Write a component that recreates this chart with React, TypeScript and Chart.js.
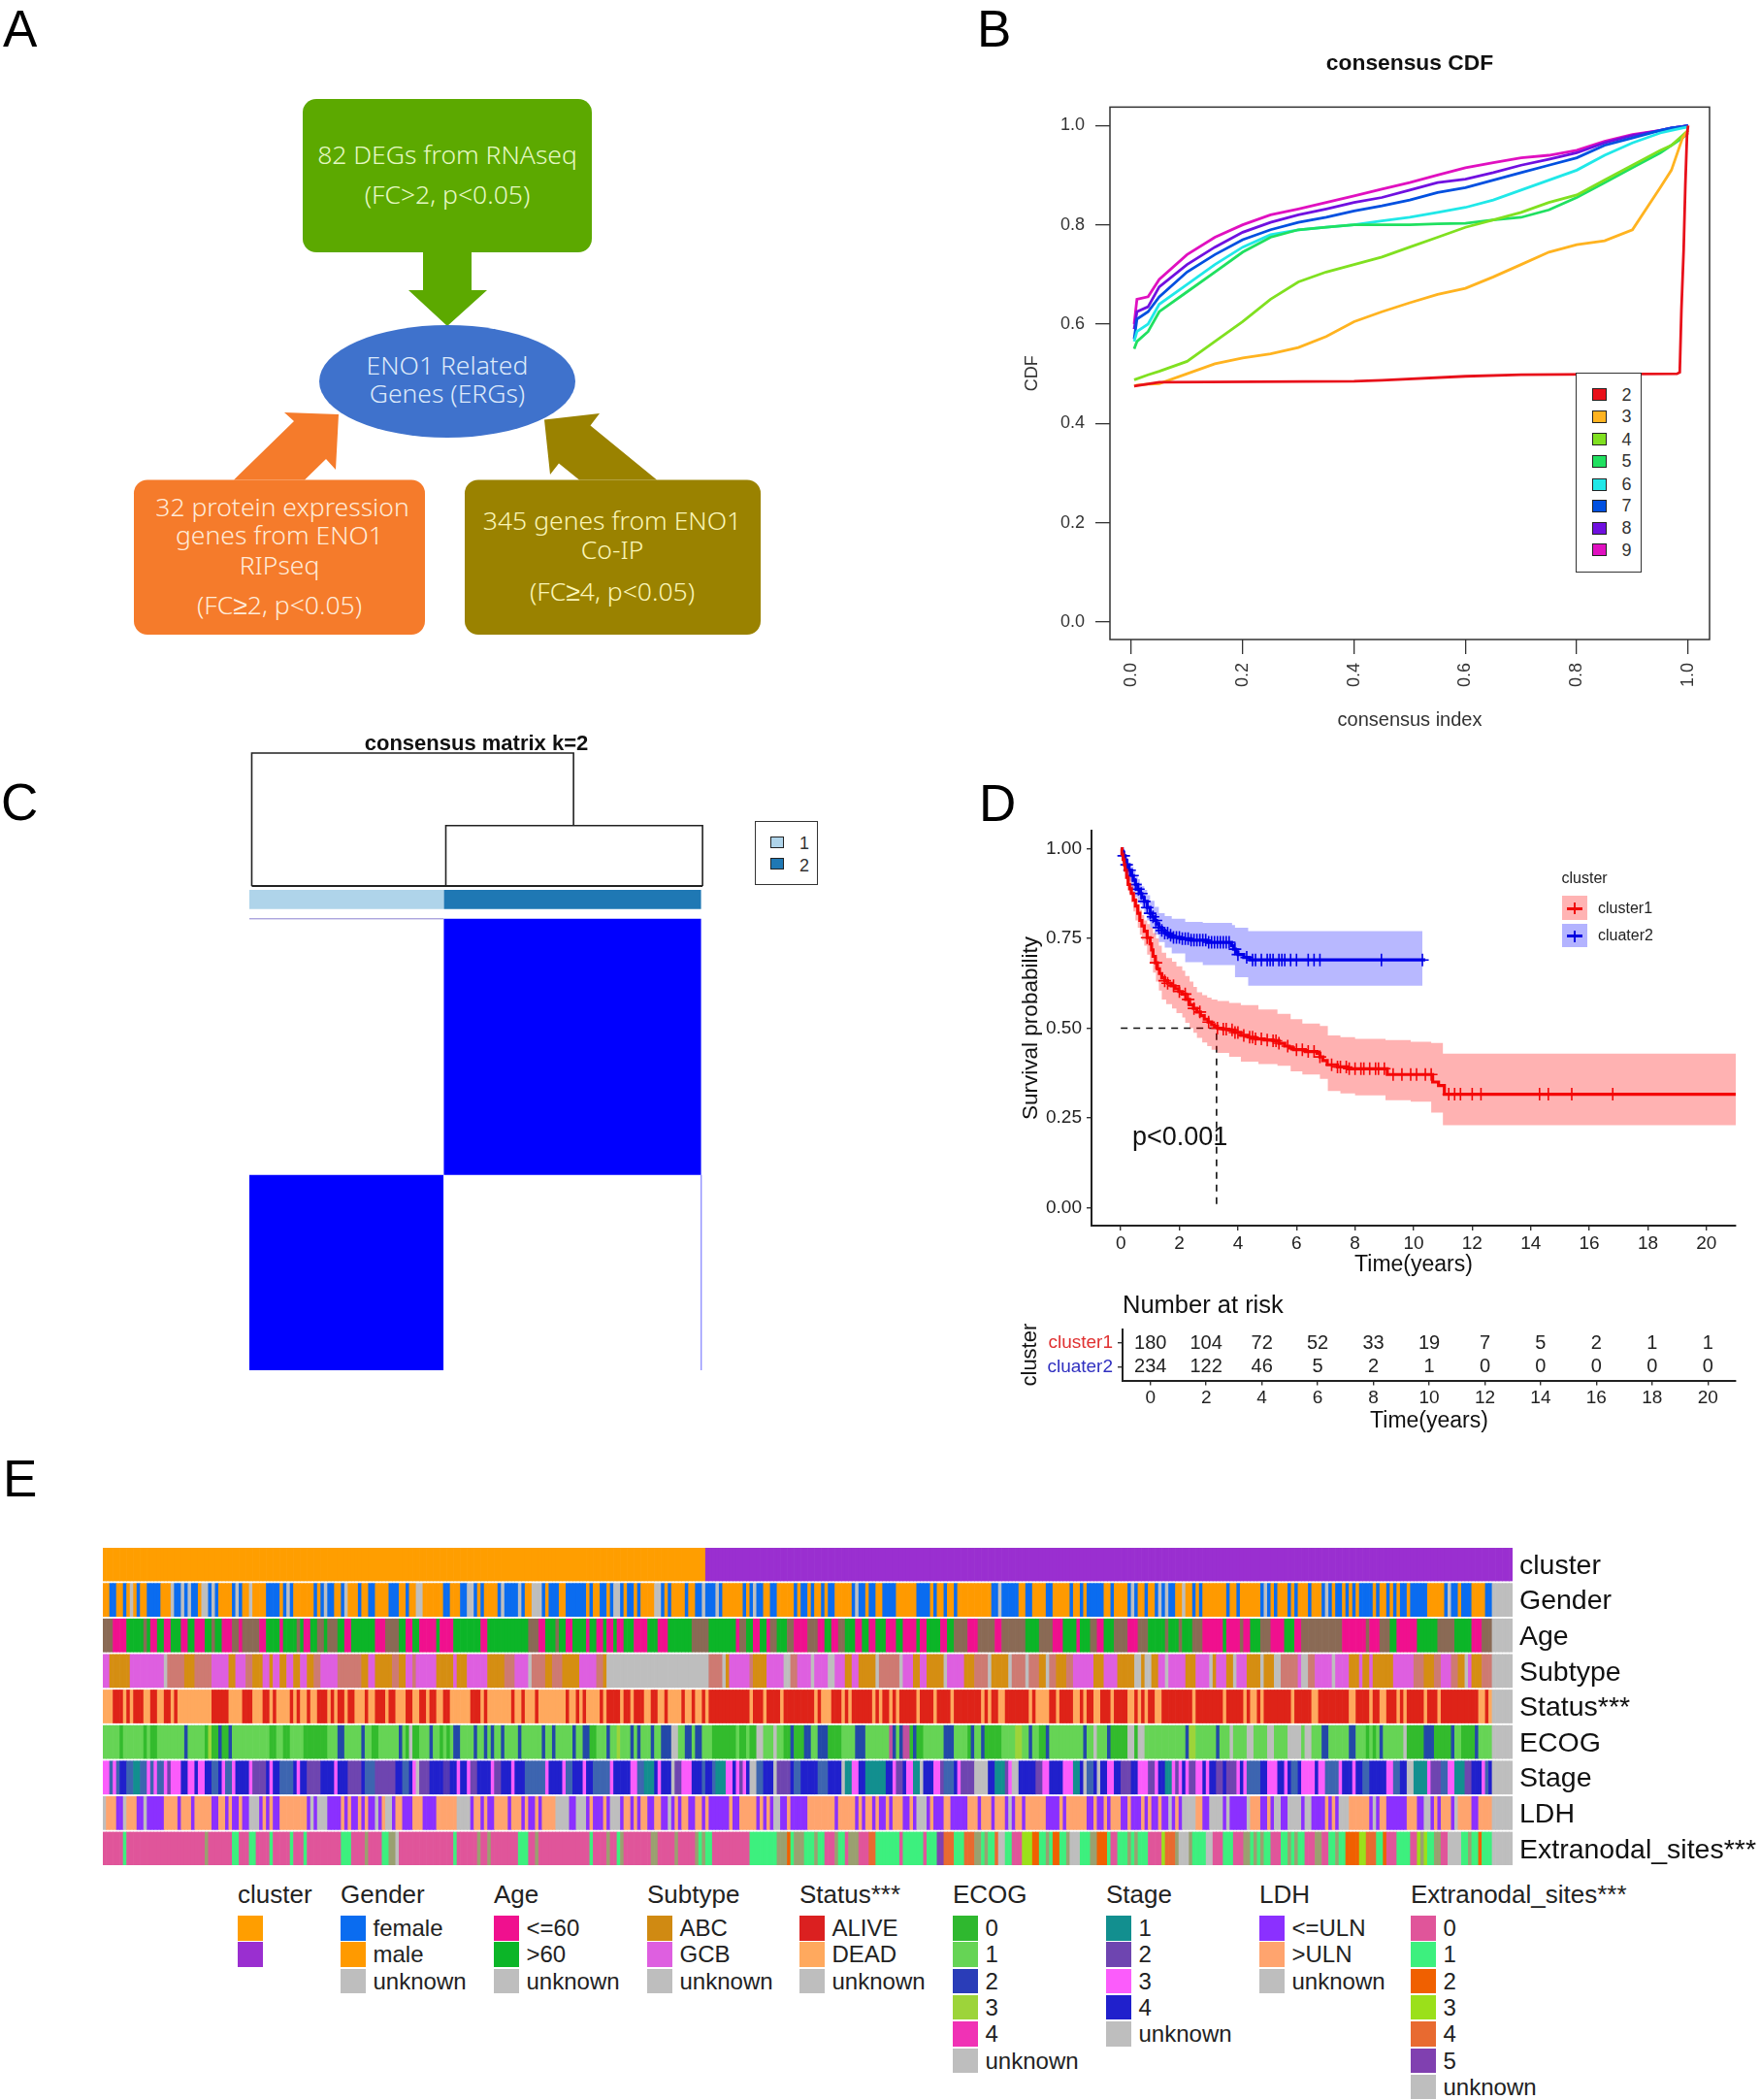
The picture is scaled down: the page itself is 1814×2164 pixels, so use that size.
import React, { useEffect, useRef } from "react";
import { Chart, registerables } from "chart.js";

Chart.register(...registerables);
Chart.defaults.font.family = "'Liberation Sans', Arial, sans-serif";

/* ---------- Panel B: consensus CDF ---------- */
const cdfIndex = [0.005, 0.01, 0.03, 0.05, 0.1, 0.15, 0.2, 0.25, 0.3, 0.35, 0.4, 0.45, 0.5, 0.55, 0.6, 0.65, 0.7, 0.75, 0.8, 0.85, 0.9, 0.95, 0.97, 0.99, 1];
const k2Index = [0.005, 0.05, 0.4, 0.45, 0.6, 0.7, 0.98, 0.985, 0.988, 0.992, 0.995, 0.998, 1];
const k2 = [0.475, 0.483, 0.485, 0.487, 0.495, 0.498, 0.5, 0.503, 0.63, 0.75, 0.88, 0.98, 1];
const k3 = [0.475, 0.477, 0.479, 0.48, 0.5, 0.52, 0.532, 0.54, 0.553, 0.575, 0.605, 0.625, 0.643, 0.66, 0.672, 0.695, 0.72, 0.745, 0.76, 0.768, 0.79, 0.875, 0.91, 0.975, 0.99];
const k4 = [0.488, 0.49, 0.498, 0.505, 0.525, 0.565, 0.605, 0.65, 0.685, 0.705, 0.72, 0.735, 0.755, 0.775, 0.795, 0.81, 0.825, 0.845, 0.86, 0.89, 0.92, 0.95, 0.96, 0.98, 0.99];
const k5 = [0.55, 0.565, 0.585, 0.625, 0.665, 0.705, 0.745, 0.775, 0.79, 0.795, 0.8, 0.8, 0.8, 0.802, 0.803, 0.81, 0.815, 0.83, 0.855, 0.885, 0.915, 0.945, 0.96, 0.975, 0.985];
const k6 = [0.565, 0.585, 0.6, 0.64, 0.68, 0.72, 0.755, 0.78, 0.79, 0.795, 0.8, 0.808, 0.815, 0.825, 0.835, 0.85, 0.87, 0.89, 0.91, 0.94, 0.965, 0.985, 0.99, 0.995, 0.997];
const k7 = [0.57, 0.61, 0.625, 0.655, 0.705, 0.74, 0.77, 0.79, 0.805, 0.815, 0.828, 0.838, 0.85, 0.865, 0.875, 0.89, 0.905, 0.92, 0.935, 0.96, 0.975, 0.99, 0.995, 0.998, 1];
const k8 = [0.59, 0.625, 0.635, 0.675, 0.72, 0.755, 0.785, 0.805, 0.82, 0.832, 0.845, 0.855, 0.87, 0.885, 0.892, 0.905, 0.92, 0.932, 0.945, 0.965, 0.98, 0.99, 0.995, 0.998, 1];
const k9 = [0.6, 0.65, 0.655, 0.69, 0.74, 0.775, 0.8, 0.82, 0.832, 0.845, 0.858, 0.872, 0.885, 0.9, 0.915, 0.925, 0.935, 0.94, 0.95, 0.968, 0.982, 0.99, 0.995, 0.998, 1];
const cdfLabels = ["2", "3", "4", "5", "6", "7", "8", "9"];
const cdfColors = ["#E8101A", "#FFB320", "#80E020", "#20E060", "#20E8E8", "#0050E0", "#7010E0", "#E010C0"];
const unitTicks = [0, 0.2, 0.4, 0.6, 0.8, 1];

/* ---------- Panel C: consensus matrix ---------- */
const sampleCount = 414;
const clusterSplitX = 178;
const clusterSplitY = 235;
const matrixBlue = "#0000FF";
const annotationColors = ["#AFD4EA", "#1F78B4"];

/* ---------- Panel D: survival ---------- */
const c1Time = [0, 0.04, 0.08, 0.12, 0.15, 0.2, 0.25, 0.3, 0.36, 0.43, 0.5, 0.58, 0.65, 0.72, 0.8, 0.9, 1.0, 1.05, 1.1, 1.18, 1.25, 1.32, 1.4, 1.5, 1.6, 1.72, 1.85, 1.98, 2.1, 2.22, 2.35, 2.48, 2.6, 2.72, 2.85, 2.98, 3.1, 3.2, 3.3, 3.5, 3.7, 3.9, 4.1, 4.35, 4.6, 4.9, 5.2, 5.4, 5.6, 5.75, 5.9, 6.3, 6.7, 6.8, 6.9, 7.05, 7.4, 7.75, 9.1, 10.65, 10.85, 11.05, 21];
const c1Surv = [1, 0.985, 0.97, 0.955, 0.94, 0.92, 0.9, 0.888, 0.875, 0.857, 0.84, 0.82, 0.8, 0.785, 0.77, 0.752, 0.735, 0.718, 0.7, 0.682, 0.665, 0.652, 0.64, 0.632, 0.625, 0.618, 0.61, 0.602, 0.595, 0.58, 0.565, 0.555, 0.545, 0.535, 0.525, 0.517, 0.51, 0.505, 0.5, 0.497, 0.495, 0.488, 0.48, 0.475, 0.47, 0.467, 0.465, 0.458, 0.45, 0.445, 0.44, 0.435, 0.43, 0.42, 0.41, 0.398, 0.392, 0.387, 0.371, 0.35, 0.34, 0.316, 0.316];
const c1BandTime = [0, 0.05, 0.1, 0.15, 0.2, 0.28, 0.36, 0.43, 0.5, 0.58, 0.65, 0.72, 0.8, 0.9, 1.0, 1.1, 1.2, 1.3, 1.4, 1.55, 1.75, 1.9, 2.1, 2.2, 2.35, 2.48, 2.6, 2.78, 2.95, 3.1, 3.3, 3.7, 4.1, 4.7, 5.35, 5.8, 6.2, 6.8, 7.07, 7.5, 8.0, 9.04, 9.9, 10.6, 11.0, 21];
const c1Upper = [1, 0.99, 0.98, 0.96, 0.94, 0.92, 0.9, 0.88, 0.86, 0.845, 0.83, 0.815, 0.8, 0.79, 0.78, 0.765, 0.75, 0.73, 0.71, 0.695, 0.685, 0.672, 0.66, 0.645, 0.63, 0.615, 0.6, 0.592, 0.585, 0.58, 0.576, 0.57, 0.564, 0.552, 0.54, 0.525, 0.513, 0.506, 0.48, 0.475, 0.47, 0.467, 0.462, 0.459, 0.429, 0.429];
const c1Lower = [1, 0.975, 0.95, 0.925, 0.9, 0.875, 0.85, 0.825, 0.8, 0.78, 0.76, 0.745, 0.73, 0.705, 0.68, 0.655, 0.63, 0.605, 0.58, 0.567, 0.555, 0.542, 0.53, 0.515, 0.5, 0.487, 0.473, 0.46, 0.45, 0.44, 0.431, 0.42, 0.407, 0.4, 0.395, 0.38, 0.371, 0.359, 0.325, 0.318, 0.313, 0.299, 0.295, 0.265, 0.23, 0.23];
const c1Censor = [0.9, 1.2, 1.5, 1.6, 1.8, 2.0, 2.2, 2.3, 2.5, 2.7, 3.0, 3.3, 3.5, 3.6, 3.8, 3.9, 4.0, 4.2, 4.4, 4.5, 4.6, 4.8, 5.0, 5.2, 5.3, 5.4, 5.7, 6.0, 6.2, 6.4, 6.6, 6.8, 7.2, 7.4, 7.5, 7.7, 7.8, 8.0, 8.2, 8.3, 8.5, 8.7, 8.8, 9.0, 9.3, 9.6, 9.9, 10.1, 10.4, 10.6, 11.2, 11.4, 11.6, 12.0, 12.3, 14.3, 14.6, 15.4, 16.8];
const c2Time = [0, 0.05, 0.1, 0.15, 0.2, 0.28, 0.36, 0.43, 0.5, 0.58, 0.65, 0.72, 0.8, 0.9, 1.0, 1.08, 1.15, 1.22, 1.3, 1.4, 1.5, 1.62, 1.74, 2.05, 2.4, 2.94, 3.7, 3.78, 3.85, 3.92, 4.0, 4.2, 4.4, 10.4];
const c2Surv = [1, 0.99, 0.98, 0.968, 0.955, 0.94, 0.925, 0.912, 0.9, 0.887, 0.875, 0.864, 0.853, 0.836, 0.82, 0.81, 0.8, 0.79, 0.78, 0.772, 0.765, 0.759, 0.753, 0.749, 0.745, 0.739, 0.739, 0.73, 0.72, 0.712, 0.705, 0.697, 0.69, 0.69];
const c2BandTime = [0, 0.05, 0.1, 0.15, 0.2, 0.28, 0.36, 0.43, 0.5, 0.58, 0.65, 0.72, 0.8, 0.9, 1.0, 1.15, 1.3, 1.5, 1.74, 2.2, 2.8, 3.8, 3.9, 4.35, 10.3];
const c2Upper = [1, 0.995, 0.99, 0.98, 0.97, 0.96, 0.95, 0.937, 0.925, 0.915, 0.905, 0.895, 0.885, 0.87, 0.855, 0.838, 0.82, 0.812, 0.805, 0.796, 0.793, 0.787, 0.78, 0.77, 0.77];
const c2Lower = [1, 0.985, 0.97, 0.95, 0.93, 0.91, 0.89, 0.877, 0.865, 0.855, 0.845, 0.832, 0.82, 0.8, 0.78, 0.76, 0.74, 0.724, 0.708, 0.684, 0.676, 0.676, 0.642, 0.618, 0.618];
const c2Censor = [0.1, 0.2, 0.3, 0.4, 0.5, 0.6, 0.7, 0.8, 0.9, 1.0, 1.1, 1.2, 1.3, 1.4, 1.5, 1.6, 1.7, 1.8, 1.9, 2.0, 2.1, 2.2, 2.3, 2.4, 2.5, 2.6, 2.7, 2.8, 2.9, 3.0, 3.1, 3.2, 3.3, 3.4, 3.5, 3.6, 3.7, 3.9, 4.0, 4.3, 4.5, 4.6, 4.8, 5.0, 5.1, 5.2, 5.4, 5.5, 5.6, 5.8, 6.0, 6.4, 6.6, 6.8, 8.9, 10.3];
const medianTime = 3.27;
const timeTicks = [0, 2, 4, 6, 8, 10, 12, 14, 16, 18, 20];
const survTicks = [0, 0.25, 0.5, 0.75, 1];
const riskCluster1 = [180, 104, 72, 52, 33, 19, 7, 5, 2, 1, 1];
const riskCluster2 = [234, 122, 46, 5, 2, 1, 0, 0, 0, 0, 0];

/* ---------- Panel E: clinical annotation heatmap (run lengths by sample) ---------- */
const rowNames = ["cluster", "Gender", "Age", "Subtype", "Status***", "ECOG", "Stage", "LDH", "Extranodal_sites***"];
const clusterRuns = ["O177 P237"];
const genderRuns = [
  "m2 f2 m2 f1 m1 u1 m1 f1 m2 f4 m3 u1 f2 u1 f1 u1 f2 m1 u2 f1 u1 f1 m4 f1 u1 f1 m2 u1 m4 f4 m1 f1 u1 f1 m6 f1 m1 f1 u1 f2 m2 f1 u1 m3 f1 m2 f2 m4",
  "f3 m2 f1 m2 u2 m6 f2 m3 f2 u2 f1 m1 f1 m4 f1 u1 f4 u1 f1 m2 u3 f1 m1 f3 m2 f6 m1 f1 m2 f2 m1 f1 u2 f1 m1 f2 m1 f1 m4 u2 f1 m1 f1",
  "m4 f1 m2 f2 u1 f3 u1 f1 m6 f1 m1 f1 u1 f2 m2 f2 m5 f1 m1 f2 m1 f1 m2 f1 m1 f2 m5 f1 u1 f2 m1 f2 m2 f4 m6 f4 m1 f1 m2 f1 m2",
  "f1 m10 f2 u1 f5 m2 f2 m4 f2 m5 f1 m2 f1 m1 f5 m2 f1 m4 f1 u1 f1 m2 f1 m2 f1 u1 f1 u1 f2 m2 u1 m2 f1 m1 f1 m7 f1 m1",
  "m1 f1 m6 f1 u1 f1 m1 f1 m3 f1 m1 f1 m3 f1 m3 f1 u1 f1 m1 f2 m1 f1 m1 f1 m1 f4 m1 f1 m2 f1 m1 f1 m1 f2 m1 f5 m5 f1 u1 f2 m1 f3 m4 f3 m1",
];
const ageRuns = [
  "x3 a4 b5 x1 b1 a2 b2 a2 b3 a2 b2 a3 b2 x1 b2 a3 x2 a1 x5 a2 b4 a1 b4 x1 b1 a2 b2 x2 b1 x3 b2 a2 b7 a3",
  "x4 b2 a2 b2 a5 b1 a4 b8 a2 b12 x3 a2 b3 x1 b2 a2 b4 a1 b2 a2 b1 a2 b1 a2 b3 a4 b3 a3",
  "b7 x5 b8 a1 x2 b2 a2 b2 a1 x2 b3 x2 a4 x3 a2 b2 a2 x2 b3 a2 b2 a2 b3 a3 b2 a4 b1 a2 b4 a2 b1",
  "b1 x4 a3 x5 a2 x7 b4 x4 a3 b4 a1 b3 x2 a2 b3 x4 a3 x3 b5 x1 b3 x1 b3 x3 a6 b1 a1",
  "a3 x1 a2 b3 x3 a4 b3 a2 x12 a7 x1 a3 x3 b2 a6 b4 b2 x5 b5 a3 x3",
];
const subtypeRuns = [
  "g2 c6 g10 u1 y5 c3 y5 g5 c2 g3 y2 c3 g2 c1 g2 c2 g2 c2 g2 c2 y2 g5 y7 c2 g2 c3",
  "c2 y2 c2 g2 y1 g6 c5 g1 c3 g6 c5 y3 g4 u1 y4 c2 y3 c5 g5 y2 c1 u18",
  "u12 y4 u1 c1 g6 y1 c4 g5 u2 y2 g4 u1 g4 u2 g3 c2 g2 c5 u1 y6 u1 g3 c2 g2 c5 u1 g1",
  "g4 c3 y4 u1 c5 u1 y4 u1 y3 c2 u1 y2 c3 y2 g6 c3 g4 c5 u2 c1 u2 c2 g2 u1 g5 c3 g4 u1 c1 g3 c2",
  "u1 g3 c4 u1 c3 u2 y5 g1 u2 y2 g5 u1 g4 c3 g1 c2 g1 c6 g6 y3 c3 y2 g3 y2 c2 u1 g1 c3 y3",
];
const statusRuns = [
  "e3 d3 e1 d1 e1 d3 e2 d2 e2 d2 e1 d1 e10 d5 e4 d3 e3 d2 e1 d1 e4 d1 e1 d1 e2 d1 e2 d3 e1 d1 e1 d2 e1 d2 e3 d1 e2 d3",
  "e1 d2 e3 d2 e2 d2 e1 d2 e2 d2 e6 d3 e1 d1 e7 d1 e2 d1 e3 d1 e8 d1 e2 d1 e1 d1 e4 d1 e1 d4 e1 d2 e1 d3 e2 d2 e2 d1",
  "e4 d1 e2 d1 e2 d1 e1 d12 e1 d3 e1 d4 e1 d9 e1 d1 e3 d3 e1 d1 e1 d6 e1 d1 e1 d2 e1 d1 e1 d5 e1 d4 e1 d4",
  "e1 d8 e1 d1 e1 d2 e2 d7 e1 d1 e4 d2 e1 d4 e2 d1 e1 d2 e2 d3 e1 d4 e2 d1 e1 d1 e1 d2 e2 d9 e1 d8 e1 d2",
  "d3 e1 d1 e2 d1 e1 d8 e1 d5 e2 d9 e2 d4 e1 d2 e2 d3 e1 d1 e1 d5 e1 d3 e1 d11 e2 d1 e2",
];
const ecogRuns = [
  "i5 h1 i6 h1 i1 h2 i8 j1 i5 h1 k1 h2 j1 h2 j1 i11 h2 i2 h2 i4 h7 i3 j2 i5 j1 i2 h2 i2",
  "i4 j1 i1 h1 u1 h2 i3 j1 i2 h1 i1 h1 i1 j2 i4 j1 i2 j1 i1 j1 i2 j1 i4 j1 i6 j1 i2 j1 i5 j1 i2 j2 h2 i3 j1 i2 k1 i3 j1 i1 j1 i3 j1 i2 j2",
  "j1 u2 i2 j2 i1 j2 i3 h7 i1 h2 i1 h2 u2 i3 u1 i2 h2 j1 h3 j2 i2 j3 h4 i4 j3 i7 l1 j1 i1 j1 l2 h1 j1 h2 i6 j2",
  "j1 i4 h1 j1 i2 j1 h5 i4 k2 i2 j1 i2 h2 j1 i10 j1 i2 u1 i3 j1 h5 u2 h1 u2 i12 j1 k2 i6 j1 i3 u1",
  "i4 u2 i4 u2 i4 u4 i1 u2 i3 j2 i6 j2 i3 h1 i1 h1 i1 j1 i6 u1 h5 j3 h5 j1 i2 h4 j1 i5 j1",
];
const stageRuns = [
  "p2 r1 p1 r1 q2 r2 n2 r2 p1 r1 p1 r2 p1 o1 p3 q2 p2 q1 p2 q2 r2 q1 p1 r2 p1 q4 p1 o4 q1 p1 q2 r4 q1 p1 q2 o4 q4 p1 q3 o4 q1 r3 o3",
  "o3 q2 r2 q1 p1 u1 o3 q4 s2 q2 p1 q2 p1 o2 q4 p1 o2 q3 p1 q3 r6 p1 q4 p1 r2 q3 p1 q2 r5 p1 q5 p2 r2 n3 q1 p1 q1",
  "q2 u1 o2 p3 q3 r1 q2 r1 n3 p2 q1 p1 o1 p1 q1 u2 r2 q3 u1 o4 q1 r2 q5 r3 q4 u1 n2 p2 q2 n6 q2 p1 o2 q1 p2 n2 u1 q3 p2 o1",
  "r3 q1 p1 o4 u4 q2 n3 o1 p1 u2 q5 o2 p2 q4 p3 n2 q1 u1 r2 q1 u1 q2 p2 q2 o3 q2 p3 o2 p1 q2 n2 p1 o1 p1 q1 p1 o2 p2 q1 p1 q2 o2 q1",
  "o3 p1 q1 p1 r4 q2 p3 q2 p1 q1 r2 q1 p4 q1 p2 r4 p1 q3 p1 q2 r2 q5 p2 r2 q2 u2 n4 p1 o3 r2 p2 n3 o2 q3 p1 r1 q1 p1",
];
const ldhRuns = [
  "u1 w3 v2 u1 w3 v2 u1 v5 w4 v1 w3 v1 w5 v2 w2 v1 w1 v2 w1 v2 u3 v1 w1 v1 w1 v2 w8 v1 u1 v1 u3 v4 w1 v1 w1 v2 w1 v1 w1 v2 u1 v1 w1",
  "u2 v1 w2 v3 w3 v4 w6 u4 v1 w2 v1 w1 v2 w4 v1 w3 v1 w1 v2 w1 v1 w4 u4 v2 u3 v1 w1 v3 w1 v1 u3 v1 w2 v1 w1 v1 w2 v2 w2 v2",
  "u1 v1 w1 v1 w2 v2 w2 v1 w1 v6 w1 v2 w5 v1 w1 v1 w1 v1 u2 v2 w1 v5 w8 v1 w5 v1 w1 v1 w2 v1 w1 v2 w1 v1 w3 v2 w1 v1 u3 v1 w1 v3 w2",
  "v5 w3 v1 w3 v1 w3 v1 u1 v1 w2 v1 w6 v4 w1 v1 w6 v2 w1 v2 w1 v1 w3 v2 w1 v3 w1 v1 w1 v2 w1 v2 u1 v1 w1 v1 u4 w2 v2 u4 v1 u1 v1",
  "v4 u1 w3 v2 w1 v1 u2 v2 u4 v1 u2 v4 w1 v1 w1 v1 u3 w6 v1 u1 v1 w2 v6 w3 v2 u2 v1 w1 v1 w3 v1 u1 w4 v2 w7",
];
const extranodalRuns = [
  "A6 B1 A23 G1 A7 B2 A3 B2 A4 B1 A5 B1 A3 B1 A10 B3 A4 G1 A4 B1",
  "B1 G2 u1 A16 B1 A6 G1 A2 G1 A8 B3 A2 G1 A15 B1 A4 G1 A2 B1 G1 A8 G2 A2",
  "A3 G1 A5 G1 B1 G1 B2 A11 B8 G3 C1 B1 G3 B3 G1 B2 A3 G1 B2 A1 G3 A3 E2 B7 A1 B6 A1 B3 F2 E1",
  "E2 B3 E3 G2 B1 G1 B2 E1 u2 B2 A3 D3 C2 B2 G1 B1 C2 B2 G1 u3 B3 G2 C3 B1 A2 B3 G1 B1 G1 B3 A4 D1 E3 G1 u3 G1 B4 u2 A3 B2",
  "B1 A3 G2 B1 G1 B1 G1 B2 A3 B2 G1 B1 G1 B2 A3 G2 A2 B2 G1 B2 C4 D2 E3 B2 C1 A3 B4 A2 D1 G1 D1 B2 G2 A2 u4 B2 G1 B2 C1 B3",
];
const trailingUnknown = 6;
const heatColors: Record<string, string> = {
  O: "#FF9E00", P: "#9A2FD0",
  f: "#0A6CF0", m: "#FF9A00", u: "#BEBEBE",
  a: "#F0108E", b: "#0CB528", x: "#8A6A55",
  c: "#D58E12", g: "#DE5FE0", y: "#CE7A72",
  d: "#DE2318", e: "#FFA95E",
  h: "#33BB2D", i: "#66D455", j: "#2348A8", k: "#9DD43A", l: "#C04FA0",
  n: "#128F8F", o: "#6E45B0", p: "#FB5CFB", q: "#2020CC", r: "#3D65B0", s: "#5238B5",
  v: "#8B30FF", w: "#FFA46E",
  A: "#E0559A", B: "#3DF07E", C: "#F06000", D: "#9BE01A", E: "#E86A30", F: "#8040B0", G: "#9AA070",
};
const legendTitles = ["cluster", "Gender", "Age", "Subtype", "Status***", "ECOG", "Stage", "LDH", "Extranodal_sites***"];
const legendLabels = [
  ["", ""],
  ["female", "male", "unknown"],
  ["<=60", ">60", "unknown"],
  ["ABC", "GCB", "unknown"],
  ["ALIVE", "DEAD", "unknown"],
  ["0", "1", "2", "3", "4", "unknown"],
  ["1", "2", "3", "4", "unknown"],
  ["<=ULN", ">ULN", "unknown"],
  ["0", "1", "2", "3", "4", "5", "unknown"],
];
const legendColors = [
  ["#FF9E00", "#9A2FD0"],
  ["#0A6CF0", "#FF9A00", "#BEBEBE"],
  ["#F0108E", "#0CB528", "#BEBEBE"],
  ["#D08A12", "#DE5FE0", "#BEBEBE"],
  ["#DB2020", "#FFA95E", "#BEBEBE"],
  ["#2FB82F", "#66D455", "#2A3DB8", "#9DD43A", "#F032B5", "#BEBEBE"],
  ["#128F8F", "#6E45B0", "#FB5CFB", "#2020CC", "#BEBEBE"],
  ["#8B30FF", "#FFA46E", "#BEBEBE"],
  ["#E0559A", "#3DF07E", "#F06000", "#9BE01A", "#E86A30", "#8040B0", "#BEBEBE"],
];
const legendLeft = [245, 351, 509, 667, 824, 982, 1140, 1298, 1454];

/* ---------- helpers ---------- */
const FONT = "'Liberation Sans', Arial, sans-serif";

function expand(chunks: string[]): string[] {
  const out: string[] = [];
  chunks.join(" ").split(/\s+/).forEach((tok) => {
    for (let i = 0; i < Number(tok.slice(1)); i++) out.push(tok[0]);
  });
  return out;
}
function finishRow(chunks: string[]): string[] {
  const body = expand(chunks).slice(0, sampleCount - trailingUnknown);
  while (body.length < sampleCount - trailingUnknown) body.push(body[body.length - 1]);
  for (let i = 0; i < trailingUnknown; i++) body.push("u");
  return body;
}
function stepValue(ts: number[], vs: number[], t: number): number {
  let v = vs[0];
  for (let i = 0; i < ts.length; i++) if (ts[i] <= t) v = vs[i];
  return v;
}
const xy = (xs: number[], ys: number[]) => xs.map((x, i) => ({ x, y: ys[i] }));

const fixW = (w: number) => (s: any) => { s.width = w; s.paddingTop = 0; s.paddingBottom = 0; s.paddingLeft = 0; s.paddingRight = 0; };
const fixH = (h: number) => (s: any) => { s.height = h; s.paddingTop = 0; s.paddingBottom = 0; s.paddingLeft = 0; s.paddingRight = 0; };
const setTicks = (vals: number[]) => (s: any) => { s.ticks = vals.map((value) => ({ value })); };

const boxPlugin = {
  id: "plotBox",
  afterDraw(chart: any) {
    const { ctx, chartArea: a } = chart;
    ctx.save();
    ctx.strokeStyle = "#333";
    ctx.lineWidth = 1.5;
    ctx.strokeRect(a.left, a.top, a.right - a.left, a.bottom - a.top);
    ctx.restore();
  },
};
const riskPlugin = {
  id: "riskNumbers",
  afterDatasetsDraw(chart: any) {
    const { ctx } = chart;
    ctx.save();
    ctx.font = `20px ${FONT}`;
    ctx.fillStyle = "#222";
    ctx.textAlign = "center";
    ctx.textBaseline = "middle";
    chart.data.datasets.forEach((ds: any, d: number) => {
      const meta = chart.getDatasetMeta(d);
      ds.data.forEach((p: any, i: number) => ctx.fillText(String(p.n), meta.data[i].x, meta.data[i].y));
    });
    ctx.restore();
  },
};

function Plot({ left, top, width, height, make }: any) {
  const ref = useRef<HTMLCanvasElement | null>(null);
  useEffect(() => {
    const chart = new Chart(ref.current as any, make());
    return () => chart.destroy();
  }, []);
  return <canvas ref={ref} width={width} height={height} style={{ position: "absolute", left, top, width, height, display: "block" }} />;
}

function T({ x, y, size, children, align = "left", rotate = 0, color = "#111", weight = 400 }: any) {
  const tx = align === "center" ? "-50%" : align === "right" ? "-100%" : "0";
  return (
    <div style={{ position: "absolute", left: x, top: y, transform: `translate(${tx}, -50%) rotate(${rotate}deg)`, fontFamily: FONT, fontSize: size, color, fontWeight: weight, whiteSpace: "nowrap", lineHeight: 1 }}>
      {children}
    </div>
  );
}

const baseOptions = { responsive: false, animation: false, devicePixelRatio: 1, events: [] as string[] };

/* ---------- chart builders ---------- */
function makeCdf() {
  const series = [k3, k4, k5, k6, k7, k8, k9];
  const datasets = [
    { data: xy(k2Index, k2), borderColor: cdfColors[0] },
    ...series.map((s, i) => ({ data: xy(cdfIndex, s), borderColor: cdfColors[i + 1] })),
  ].map((d) => ({ ...d, showLine: true, pointRadius: 0, borderWidth: 2.8, tension: 0, fill: false }));
  const tickGrid = { display: true, drawOnChartArea: false, tickLength: 15, color: "#333", lineWidth: 1.3 };
  return {
    type: "scatter",
    data: { datasets },
    plugins: [boxPlugin],
    options: {
      ...baseOptions,
      layout: { padding: { top: 10, right: 10, left: 0, bottom: 0 } },
      plugins: {
        legend: { display: false },
        tooltip: { enabled: false },
        title: { display: true, text: "consensus CDF", fullSize: false, color: "#111", font: { size: 22.8, weight: "bold", lineHeight: 1.2 }, padding: { top: 2, bottom: 31.0 } },
      },
      scales: {
        x: {
          type: "linear", min: -0.0385, max: 1.0385, afterBuildTicks: setTicks(unitTicks), afterFit: fixH(95), grid: tickGrid, border: { display: false },
          ticks: { color: "#333", font: { size: 18 }, minRotation: 90, maxRotation: 90, padding: 9, callback: (v: number) => v.toFixed(1) },
          title: { display: true, text: "consensus index", color: "#333", font: { size: 20 }, padding: 0 },
        },
        y: {
          type: "linear", min: -0.035, max: 1.037, afterBuildTicks: setTicks(unitTicks), afterFit: fixW(91), grid: tickGrid, border: { display: false },
          ticks: { color: "#333", font: { size: 18 }, padding: 11, callback: (v: number) => v.toFixed(1) },
          title: { display: true, text: "CDF", color: "#333", font: { size: 18 }, padding: 0 },
        },
      },
    },
  };
}

function makeMatrix() {
  const rect = (x0: number, x1: number, y0: number, y1: number, color: string) => ({
    data: [{ x: x0, y: y1 }, { x: x1, y: y1 }], showLine: true, pointRadius: 0, borderWidth: 0, borderColor: color,
    backgroundColor: color, fill: { target: { value: y0 } },
  });
  const path = (pts: number[][], color: string, width: number) => ({
    data: pts.map(([x, y]) => ({ x, y })), showLine: true, pointRadius: 0, borderColor: color, borderWidth: width, fill: false, clip: false,
  });
  const base = -30, inner = -85.5, top = -152;
  const stem = 297, leftLeg = 2.2, midLeg = 180, rightLeg = 415.2;
  const datasets = [
    rect(clusterSplitX, sampleCount, 0, clusterSplitY, matrixBlue),
    rect(0, clusterSplitX, clusterSplitY, sampleCount, matrixBlue),
    rect(0, clusterSplitX, -26.6, -9, annotationColors[0]),
    rect(clusterSplitX, sampleCount, -26.6, -9, annotationColors[1]),
    path([[0, 0], [clusterSplitX, 0]], "#8A80D0", 1),
    path([[sampleCount, clusterSplitY], [sampleCount, sampleCount]], "#8080FF", 1.2),
    path([[leftLeg, base], [leftLeg, top], [stem, top], [stem, inner]], "#222", 1.6),
    path([[midLeg, base], [midLeg, inner], [rightLeg, inner], [rightLeg, base]], "#222", 1.6),
    path([[leftLeg, base], [rightLeg, base]], "#222", 2),
  ];
  return {
    type: "scatter",
    data: { datasets },
    options: {
      ...baseOptions,
      layout: { padding: { left: 16, right: 16, top: 0, bottom: 0 } },
      plugins: {
        legend: { display: false },
        tooltip: { enabled: false },
        title: { display: true, text: "consensus matrix k=2", color: "#111", font: { size: 22, weight: "bold", lineHeight: 1 }, padding: { top: 8, bottom: -2 } },
      },
      scales: {
        x: { type: "linear", display: false, min: 0, max: 416 },
        y: { type: "linear", display: false, min: top, max: sampleCount, reverse: true },
      },
    },
  };
}

function makeSurvival() {
  const band = (t: number[], up: number[], low: number[], color: string) => [
    { data: xy(t, up), showLine: true, stepped: "before", pointRadius: 0, borderWidth: 0, backgroundColor: color, fill: "+1" },
    { data: xy(t, low), showLine: true, stepped: "before", pointRadius: 0, borderWidth: 0, fill: false },
  ];
  const censor = (ts: number[], times: number[], surv: number[], color: string) => ({
    data: ts.map((t) => ({ x: t, y: stepValue(times, surv, t) })), showLine: false, pointStyle: "cross", pointRadius: 6.5, pointBorderColor: color, pointBorderWidth: 1.6,
  });
  const line = (t: number[], s: number[], color: string) => ({
    data: xy(t, s), showLine: true, stepped: "before", pointRadius: 0, borderColor: color, borderWidth: 3.2, fill: false,
  });
  const tickGrid = { display: true, drawOnChartArea: false, tickLength: 5, color: "#333", lineWidth: 1.4 };
  return {
    type: "scatter",
    data: {
      datasets: [
        ...band(c1BandTime, c1Upper, c1Lower, "rgba(255,0,0,0.3)"),
        ...band(c2BandTime, c2Upper, c2Lower, "rgba(0,0,255,0.28)"),
        line(c1Time, c1Surv, "#F00A0A"),
        line(c2Time, c2Surv, "#0000E0"),
        censor(c1Censor, c1Time, c1Surv, "#F00A0A"),
        censor(c2Censor, c2Time, c2Surv, "#0000E0"),
        { data: [{ x: 0, y: 0.5 }, { x: medianTime, y: 0.5 }, { x: medianTime, y: 0 }], showLine: true, pointRadius: 0, borderColor: "#111", borderWidth: 1.6, borderDash: [7, 6], fill: false },
      ],
    },
    options: {
      ...baseOptions,
      layout: { padding: { top: 14, right: 20, left: 0, bottom: 0 } },
      plugins: { legend: { display: false }, tooltip: { enabled: false } },
      scales: {
        x: {
          type: "linear", min: -1, max: 21, afterBuildTicks: setTicks(timeTicks), afterFit: fixH(54), grid: tickGrid, border: { display: true, color: "#222", width: 2 },
          ticks: { color: "#222", font: { size: 19 }, maxRotation: 0, padding: 2.5 },
          title: { display: true, text: "Time(years)", color: "#111", font: { size: 23 }, padding: 0 },
        },
        y: {
          type: "linear", min: -0.05, max: 1.05, afterBuildTicks: setTicks(survTicks), afterFit: fixW(76), grid: tickGrid, border: { display: true, color: "#222", width: 2 },
          ticks: { color: "#222", font: { size: 19 }, padding: 5, callback: (v: number) => v.toFixed(2) },
          title: { display: true, text: "Survival probability", color: "#111", font: { size: 22.5 }, padding: 0 },
        },
      },
    },
  };
}

function makeRisk() {
  const row = (vals: number[], y: number) => ({ data: vals.map((n, i) => ({ x: timeTicks[i], y, n })), pointRadius: 0, showLine: false });
  const tickGrid = { display: true, drawOnChartArea: false, tickLength: 5, color: "#333", lineWidth: 1.4 };
  return {
    type: "scatter",
    data: { datasets: [row(riskCluster1, 2), row(riskCluster2, 1)] },
    plugins: [riskPlugin],
    options: {
      ...baseOptions,
      layout: { padding: { top: 0, right: 20, left: 0, bottom: 0 } },
      plugins: {
        legend: { display: false },
        tooltip: { enabled: false },
        title: { display: true, text: "Number at risk", align: "start", fullSize: false, color: "#111", font: { size: 25.5, weight: "normal", lineHeight: 1.2 }, padding: { top: 3, bottom: 8 } },
      },
      scales: {
        x: {
          type: "linear", min: -1, max: 21, afterBuildTicks: setTicks(timeTicks), afterFit: fixH(55.4), grid: tickGrid, border: { display: true, color: "#222", width: 2 },
          ticks: { color: "#222", font: { size: 19 }, maxRotation: 0, padding: 1.5 },
          title: { display: true, text: "Time(years)", color: "#111", font: { size: 23 }, padding: 0 },
        },
        y: {
          type: "linear", min: 0.44, max: 2.59, afterBuildTicks: setTicks([1, 2]), afterFit: fixW(108), grid: tickGrid, border: { display: true, color: "#222", width: 2 },
          ticks: { font: { size: 19 }, padding: 5, color: (c: any) => (c.tick.value === 2 ? "#E03030" : "#3030C0"), callback: (v: number) => (v === 2 ? "cluster1" : "cluater2") },
          title: { display: true, text: "cluster", color: "#111", font: { size: 22 }, padding: 0 },
        },
      },
    },
  };
}

function makeHeat() {
  const rows = [clusterRuns, genderRuns, ageRuns, subtypeRuns, statusRuns, ecogRuns, stageRuns, ldhRuns, extranodalRuns];
  const rowCodes = rows.map((r, i) => (i === 0 ? expand(r) : finishRow(r)));
  const barFrac = 0.93;
  const labelShift = 0.05;
  return {
    type: "bar",
    data: {
      labels: rowCodes[0].map((_, i) => i),
      datasets: rowCodes.map((codes, r) => ({
        data: codes.map(() => [r, r + barFrac]),
        backgroundColor: codes.map((c) => heatColors[c]),
        borderWidth: 0,
        barPercentage: 1,
        categoryPercentage: 1,
        grouped: false,
      })),
    },
    options: {
      ...baseOptions,
      layout: { padding: 0 },
      plugins: { legend: { display: false }, tooltip: { enabled: false } },
      scales: {
        x: { display: false },
        y: {
          type: "linear", position: "right", min: 0, max: rowCodes.length - 1 + barFrac, reverse: true,
          afterBuildTicks: setTicks(rowNames.map((_, i) => i + barFrac / 2 + labelShift)), afterFit: fixW(255),
          grid: { display: false, drawTicks: false, tickLength: 0 }, border: { display: false },
          ticks: { autoSkip: false, color: "#111", font: { size: 28.5 }, padding: 7, callback: (_: number, i: number) => rowNames[i] },
        },
      },
    },
  };
}

/* ---------- flowchart (panel A) ---------- */
function Flow() {
  const txt = (x: number, y: number, s: string, fill: string) => (
    <text x={x} y={y - 1} textAnchor="middle" dominantBaseline="central" fontFamily="'Noto Sans', sans-serif" fontSize={26.5} fontWeight={300} fill={fill}>{s}</text>
  );
  return (
    <svg width={820} height={680} style={{ position: "absolute", left: 0, top: 0 }}>
      <rect x={312} y={102} width={298} height={158} rx={14} fill="#5CA900" />
      <polygon points="436,260 486,260 486,299 502,299 461,336 421,299 436,299" fill="#5CA900" />
      <ellipse cx={461} cy={393} rx={132} ry={58} fill="#3F72CC" />
      <rect x={138} y={494.5} width={300} height={159.5} rx={14} fill="#F57B2B" />
      <polygon points="241,494.5 303,434 293,425 349,427 346,484 336,473 314,494.5" fill="#F57B2B" />
      <rect x={479} y={494.5} width={305} height={159.5} rx={14} fill="#9A8200" />
      <polygon points="677,494.5 608.5,438.5 618,426 561,432.5 567,489 576,477.5 597,494.5" fill="#9A8200" />
      {txt(461, 160, "82 DEGs from RNAseq", "#E6F9C4")}
      {txt(461, 201, "(FC>2, p<0.05)", "#E6F9C4")}
      {txt(461, 377, "ENO1 Related", "#DCE9FA")}
      {txt(461, 406, "Genes (ERGs)", "#DCE9FA")}
      {txt(291, 523, "32 protein expression", "#FFEBD9")}
      {txt(288, 552, "genes from ENO1", "#FFEBD9")}
      {txt(288, 583, "RIPseq", "#FFEBD9")}
      {txt(288, 624, "(FC≥2, p<0.05)", "#FFEBD9")}
      {txt(631, 537, "345 genes from ENO1", "#FBF6B8")}
      {txt(631, 567, "Co-IP", "#FBF6B8")}
      {txt(631, 610, "(FC≥4, p<0.05)", "#FBF6B8")}
    </svg>
  );
}

function Swatch({ x, y, w, h, color, border }: any) {
  return <div style={{ position: "absolute", left: x, top: y, width: w, height: h, background: color, boxSizing: "border-box", border: border ? "1px solid #222" : "none" }} />;
}
function Frame({ x, y, w, h, bw = 1.5 }: any) {
  return <div style={{ position: "absolute", left: x, top: y, width: w, height: h, background: "#fff", boxSizing: "border-box", border: `${bw}px solid #333` }} />;
}

export default function App() {
  const cdfRowY = [406.5, 429.4, 452.7, 475, 499, 521, 544, 566.7];
  return (
    <div style={{ position: "absolute", left: 0, top: 0, width: 1814, height: 2164, background: "#fff", overflow: "hidden", filter: "blur(0.5px)" }}>
      <T x={3} y={29} size={53} color="#000">A</T>
      <T x={1007} y={29} size={53} color="#000">B</T>
      <T x={1} y={826} size={53} color="#000">C</T>
      <T x={1009} y={827} size={53} color="#000">D</T>
      <T x={3} y={1523} size={53} color="#000">E</T>

      <Flow />

      <Plot left={1053} top={40} width={719} height={714} make={makeCdf} />
      <Frame x={1623.6} y={383.6} w={68} h={206} />
      {cdfLabels.map((l, i) => (
        <React.Fragment key={l}>
          <Swatch x={1641} y={cdfRowY[i] - 6.5} w={15} h={13} color={cdfColors[i]} border />
          <T x={1676.5} y={cdfRowY[i]} size={18} align="center" color="#333">{l}</T>
        </React.Fragment>
      ))}

      <Plot left={241} top={748} width={500} height={664} make={makeMatrix} />
      <Frame x={778.4} y={845.7} w={64.3} h={66} />
      <Swatch x={794} y={862} w={14} h={12} color={annotationColors[0]} border />
      <Swatch x={794} y={884} w={14} h={12} color={annotationColors[1]} border />
      <T x={829} y={869} size={18} align="center" color="#333">1</T>
      <T x={829} y={891.5} size={18} align="center" color="#333">2</T>

      <Plot left={1049} top={842} width={760} height={475} make={makeSurvival} />
      <T x={1167} y={1171} size={27}>p&lt;0.001</T>
      <T x={1609.5} y={905} size={16} color="#222">cluster</T>
      <Swatch x={1610} y={923} w={26} h={24.6} color="#FFB3B3" />
      <Swatch x={1610} y={951.6} w={26} h={24.6} color="#B3B3FF" />
      <Swatch x={1615} y={934.5} w={16} h={3} color="#F00A0A" />
      <Swatch x={1622} y={930} w={2} h={12} color="#F00A0A" />
      <Swatch x={1615} y={963} w={16} h={3} color="#0000E0" />
      <Swatch x={1622} y={958.5} w={2} h={12} color="#0000E0" />
      <T x={1647} y={936} size={16} color="#222">cluster1</T>
      <T x={1647} y={964} size={16} color="#222">cluater2</T>

      <Plot left={1049} top={1328} width={760} height={150} make={makeRisk} />

      <Plot left={106} top={1595} width={1708} height={327} make={makeHeat} />
      {legendTitles.map((title, c) => (
        <React.Fragment key={title}>
          <T x={legendLeft[c]} y={1951.5} size={26} color="#222">{title}</T>
          {legendColors[c].map((color, i) => (
            <React.Fragment key={i}>
              <Swatch x={legendLeft[c]} y={1974 + i * 27.33} w={26} h={25.5} color={color} />
              <T x={legendLeft[c] + 33.5} y={1974 + i * 27.33 + 13} size={24} color="#222">{legendLabels[c][i]}</T>
            </React.Fragment>
          ))}
        </React.Fragment>
      ))}
    </div>
  );
}
